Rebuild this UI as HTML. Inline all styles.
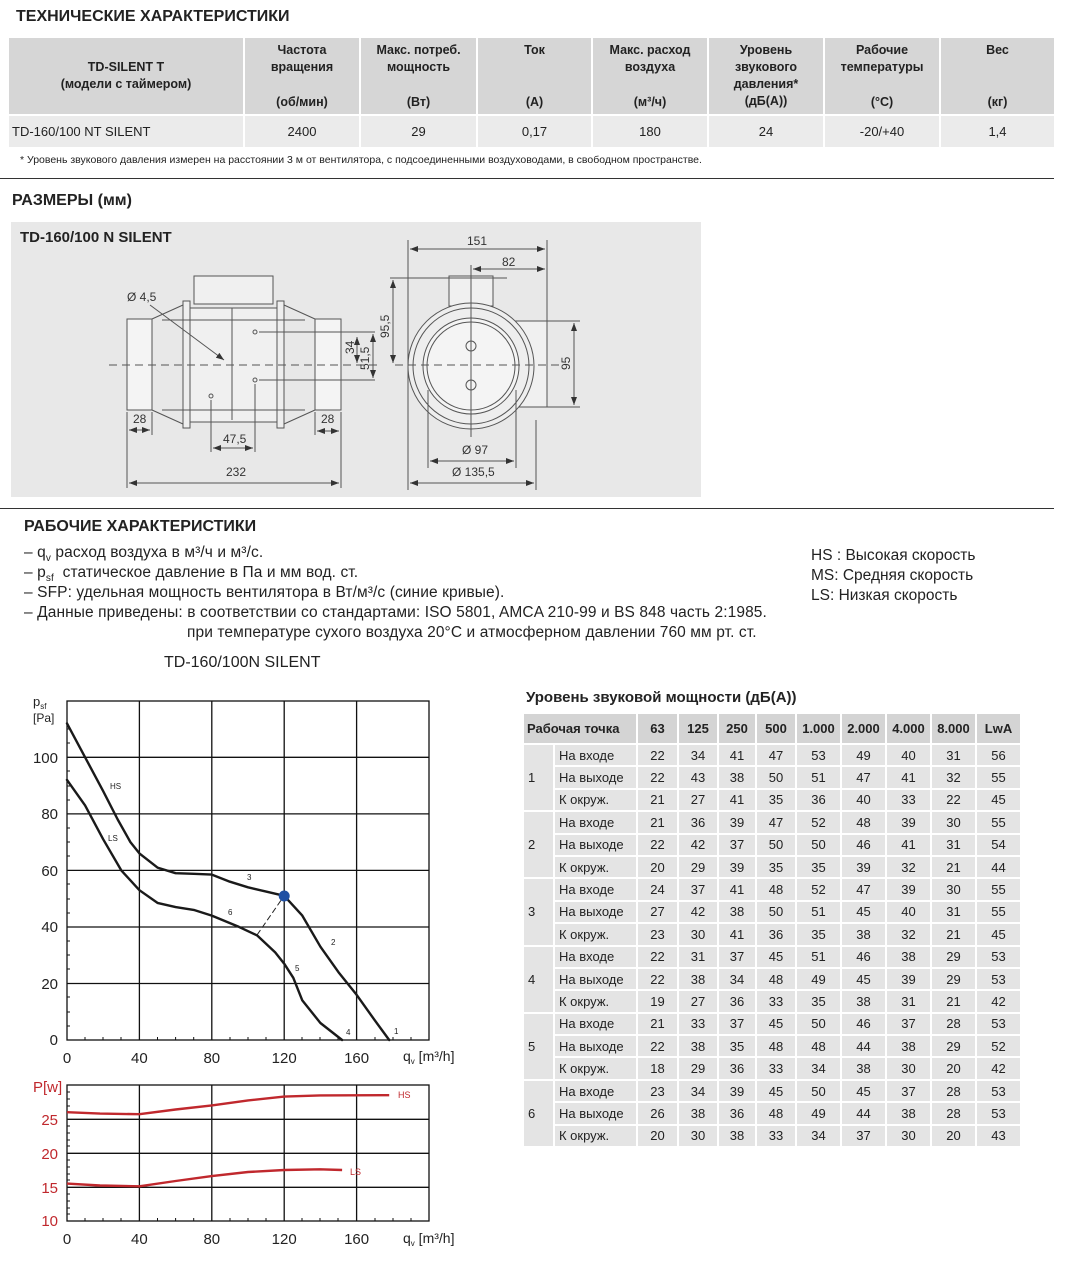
<!DOCTYPE html>
<html><head><meta charset="utf-8">
<style>
*{margin:0;padding:0;box-sizing:border-box}
body{width:1074px;height:1265px;background:#fff;position:relative;font-family:"Liberation Sans","DejaVu Sans",sans-serif;color:#222;overflow:hidden}
.a{position:absolute;white-space:nowrap}
h1{position:absolute;font-size:16px;font-weight:bold;color:#222}
table{position:absolute;border-collapse:separate;border-spacing:2px}
#t1{left:7px;top:36px;width:1049px}
#t1 td{background:#ebebeb;font-size:13px;text-align:center;height:31px;padding:0}
#t1 th{background:#d6d6d6;font-size:12.5px;height:76px;position:relative;vertical-align:top;font-weight:bold;padding-top:4px;line-height:17px}
#t1 th .u{position:absolute;bottom:3px;left:0;right:0}
#t2{left:522px;top:712px}
#t2 th{background:#d4d4d4;font-size:13px;height:29px;font-weight:bold;padding:0 3px}
#t2 td{background:#e4e4e4;font-size:13px;height:20.4px;padding:0 3px;text-align:center}
#t2 td.l{text-align:left;padding-left:4px}
.p{position:absolute;white-space:nowrap;font-size:15.5px;left:24px;letter-spacing:0.1px}
.s{font-size:10px;position:relative;top:4px}
</style></head><body>

<h1 style="left:16px;top:8px">ТЕХНИЧЕСКИЕ ХАРАКТЕРИСТИКИ</h1>
<table id="t1">
<tr>
<th style="width:234px;vertical-align:middle;padding-top:0">TD-SILENT T<br>(модели с таймером)</th>
<th style="width:114px">Частота<br>вращения<div class="u">(об/мин)</div></th>
<th style="width:115px">Макс. потреб.<br>мощность<div class="u">(Вт)</div></th>
<th style="width:113px">Ток<div class="u">(А)</div></th>
<th style="width:114px">Макс. расход<br>воздуха<div class="u">(м³/ч)</div></th>
<th style="width:114px">Уровень<br>звукового<br>давления*<br>(дБ(А))</th>
<th style="width:114px">Рабочие<br>температуры<div class="u">(°C)</div></th>
<th style="width:113px">Вес<div class="u">(кг)</div></th>
</tr>
<tr><td style="text-align:left;padding-left:3px">TD-160/100 NT SILENT</td><td>2400</td><td>29</td><td>0,17</td><td>180</td><td>24</td><td>-20/+40</td><td>1,4</td></tr>
</table>
<div class="a" style="left:20px;top:154px;font-size:10.5px">* Уровень звукового давления измерен на расстоянии 3 м от вентилятора, с подсоединенными воздуховодами, в свободном пространстве.</div>
<div class="a" style="left:0;top:178px;width:1054px;height:1px;background:#333"></div>

<h1 style="left:12px;top:192px">РАЗМЕРЫ (мм)</h1>
<div class="a" style="left:11px;top:222px;width:690px;height:275px;background:#e8e8e8"></div>
<div class="a" style="left:20px;top:229px;font-size:15px;font-weight:bold">TD-160/100 N SILENT</div>

<svg class="a" style="left:0;top:0" width="1074" height="1265" font-family="Liberation Sans, sans-serif">
<defs><marker id="ar" markerWidth="8" markerHeight="6" refX="8" refY="3" orient="auto-start-reverse"><path d="M0,0L8,3L0,6z" fill="#333"/></marker></defs>
<g fill="none" stroke="#555" stroke-width="1">
<rect x="127" y="319" width="25" height="91" fill="#f4f4f4"/>
<rect x="315" y="319" width="26" height="91" fill="#f4f4f4"/>
<path d="M152,319L183,305M152,410L183,424M315,319L284,305M315,410L284,424"/>
<rect x="190" y="308" width="87" height="114" fill="#f0f0f0"/>
<rect x="183" y="301" width="7" height="127" fill="#eee"/>
<rect x="277" y="301" width="7" height="127" fill="#eee"/>
<rect x="194" y="276" width="79" height="28" fill="#f0f0f0"/>
<line x1="232" y1="308" x2="232" y2="420"/>
<line x1="162" y1="320" x2="305" y2="320"/><line x1="162" y1="410" x2="305" y2="410"/>
<circle cx="255" cy="332" r="2"/><circle cx="255" cy="380" r="2"/><circle cx="211" cy="396" r="2"/>
<line x1="150" y1="305" x2="224" y2="360" marker-end="url(#ar)"/>
<line x1="259" y1="332" x2="375" y2="332"/><line x1="259" y1="380" x2="375" y2="380"/>
<line x1="109" y1="365" x2="380" y2="365" stroke-dasharray="8,5"/>
<line x1="127" y1="412" x2="127" y2="488"/><line x1="341" y1="412" x2="341" y2="488"/>
<line x1="152" y1="412" x2="152" y2="435"/><line x1="315" y1="412" x2="315" y2="435"/>
<line x1="129" y1="430" x2="150" y2="430" marker-end="url(#ar)" marker-start="url(#ar)"/>
<line x1="317" y1="431" x2="339" y2="431" marker-end="url(#ar)" marker-start="url(#ar)"/>
<line x1="211" y1="400" x2="211" y2="452"/><line x1="255" y1="384" x2="255" y2="452"/>
<line x1="213" y1="448" x2="253" y2="448" marker-end="url(#ar)" marker-start="url(#ar)"/>
<line x1="129" y1="483" x2="339" y2="483" marker-end="url(#ar)" marker-start="url(#ar)"/>
<line x1="357" y1="337" x2="357" y2="363" marker-end="url(#ar)" marker-start="url(#ar)"/>
<line x1="373" y1="334" x2="373" y2="378" marker-end="url(#ar)" marker-start="url(#ar)"/>
<rect x="493" y="321" width="54" height="86" fill="#f0f0f0"/>
<rect x="449" y="276" width="44" height="30" fill="#f0f0f0"/>
<circle cx="471" cy="366" r="63" fill="#eee"/>
<circle cx="471" cy="366" r="58"/>
<circle cx="471" cy="366" r="48" fill="#f4f4f4"/>
<circle cx="471" cy="366" r="44"/>
<circle cx="471" cy="346" r="5"/><circle cx="471" cy="385" r="5"/>
<line x1="471" y1="265" x2="471" y2="437"/>
<line x1="395" y1="365" x2="560" y2="365" stroke-dasharray="8,5"/>
<line x1="408" y1="240" x2="408" y2="490"/><line x1="547" y1="240" x2="547" y2="321"/>
<line x1="410" y1="249" x2="545" y2="249" marker-end="url(#ar)" marker-start="url(#ar)"/>
<line x1="473" y1="269" x2="545" y2="269" marker-end="url(#ar)" marker-start="url(#ar)"/>
<line x1="390" y1="278" x2="507" y2="278"/>
<line x1="393" y1="280" x2="393" y2="363" marker-end="url(#ar)" marker-start="url(#ar)"/>
<line x1="547" y1="321" x2="580" y2="321"/><line x1="547" y1="407" x2="580" y2="407"/>
<line x1="574" y1="323" x2="574" y2="405" marker-end="url(#ar)" marker-start="url(#ar)"/>
<line x1="428" y1="390" x2="428" y2="468"/><line x1="516" y1="390" x2="516" y2="468"/>
<line x1="430" y1="461" x2="514" y2="461" marker-end="url(#ar)" marker-start="url(#ar)"/>
<line x1="536" y1="420" x2="536" y2="490"/>
<line x1="410" y1="483" x2="534" y2="483" marker-end="url(#ar)" marker-start="url(#ar)"/>
</g>
<g font-size="12" fill="#333">
<text x="127" y="301">Ø 4,5</text><text x="133" y="423">28</text><text x="321" y="423">28</text>
<text x="223" y="443">47,5</text><text x="226" y="476">232</text>
<text x="467" y="245">151</text><text x="502" y="266">82</text>
<text x="462" y="454">Ø 97</text><text x="452" y="476">Ø 135,5</text>
<text transform="translate(354,354) rotate(-90)">34</text>
<text transform="translate(369,370) rotate(-90)">51,5</text>
<text transform="translate(389,338) rotate(-90)">95,5</text>
<text transform="translate(570,370) rotate(-90)">95</text>
</g>
</svg>

<div class="a" style="left:0;top:508px;width:1054px;height:1px;background:#333"></div>
<h1 style="left:24px;top:518px">РАБОЧИЕ ХАРАКТЕРИСТИКИ</h1>
<div class="p" style="top:544px">– q<span class="s">v</span> расход воздуха в м³/ч и м³/с.</div>
<div class="p" style="top:564px">– p<span class="s">sf</span>&nbsp; статическое давление в Па и мм вод. ст.</div>
<div class="p" style="top:584px">– SFP: удельная мощность вентилятора в Вт/м³/с (синие кривые).</div>
<div class="p" style="top:604px">– Данные приведены: в соответствии со стандартами: ISO 5801, AMCA 210-99 и BS 848 часть 2:1985.</div>
<div class="p" style="left:187px;top:624px">при температуре сухого воздуха 20°C и атмосферном давлении 760 мм рт. ст.</div>
<div class="a" style="left:811px;top:546px;font-size:15.5px;line-height:20px">HS : Высокая скорость<br>MS: Средняя скорость<br>LS: Низкая скорость</div>
<div class="a" style="left:164px;top:654px;font-size:16px">TD-160/100N SILENT</div>

<svg class="a" style="left:0;top:0" width="1074" height="1265" font-family="Liberation Sans, sans-serif">
<g stroke="#111" stroke-width="1.3" fill="none">
<rect x="67" y="701" width="362" height="339"/>
<path d="M139.4,701V1040M211.8,701V1040M284.2,701V1040M356.6,701V1040M67,757.3H429M67,813.9H429M67,870.4H429M67,927H429M67,983.5H429"/>
<rect x="67" y="1085" width="362" height="136"/>
<path d="M139.4,1085V1221M211.8,1085V1221M284.2,1085V1221M356.6,1085V1221M67,1119.3H429M67,1153.3H429M67,1187.3H429"/>
</g>
<g stroke="#111" stroke-width="1">
<path d="M67,729h3M67,743h3M67,771h3M67,786h3M67,800h3M67,828h3M67,842h3M67,856h3M67,884h3M67,899h3M67,913h3M67,941h3M67,955h3M67,969h3M67,997h3M67,1012h3M67,1026h3"/>
<path d="M85,1040v-3M103,1040v-3M121,1040v-3M157.5,1040v-3M175.6,1040v-3M193.7,1040v-3M230,1040v-3M248,1040v-3M266,1040v-3M302,1040v-3M320,1040v-3M338,1040v-3M375,1040v-3M393,1040v-3M411,1040v-3"/>
<path d="M67,1092h3M67,1099h3M67,1106h3M67,1112h3M67,1126h3M67,1133h3M67,1140h3M67,1146h3M67,1160h3M67,1167h3M67,1174h3M67,1180h3M67,1194h3M67,1201h3M67,1208h3M67,1214h3"/>
<path d="M85,1221v-3M103,1221v-3M121,1221v-3M157.5,1221v-3M175.6,1221v-3M193.7,1221v-3M230,1221v-3M248,1221v-3M266,1221v-3M302,1221v-3M320,1221v-3M338,1221v-3M375,1221v-3M393,1221v-3M411,1221v-3"/>
</g>
<g stroke="#1a1a1a" stroke-width="2.4" fill="none" stroke-linejoin="round" stroke-linecap="round">
<polyline points="67,723.4 85.1,757.3 103.2,791.2 117.7,819.5 130.4,842.1 139.4,853.4 157.5,867.6 175.6,873.2 193.7,873.8 211.8,874.6 229.9,881.7 248,887.3 266.1,891.6 284.2,895.8 302.3,915.6 320.4,946.7 338.5,972.2 356.6,994.8 374.7,1020.2 389.2,1040"/>
<polyline points="67,779.9 85.1,805.4 103.2,839.3 121.3,870.4 139.4,890.2 157.5,902.9 175.6,907.1 193.7,909.9 211.8,915.6 239,926.9 257.1,935.4 275.2,952.4 284.2,963.7 293.3,977.8 302.3,1000.4 320.4,1023 342.1,1040"/>
</g>
<line x1="257" y1="935" x2="284" y2="896" stroke="#222" stroke-width="1" stroke-dasharray="6,3"/>
<circle cx="284.2" cy="896" r="5.5" fill="#1f4fa3"/>
<g stroke="#c0282d" stroke-width="2.4" fill="none" stroke-linejoin="round">
<polyline points="67,1112.2 100,1113.6 139.4,1114.2 175.6,1109.5 211.8,1105.4 248,1100.4 284.2,1096.6 320,1095.4 389.2,1095.2"/>
<polyline points="67,1183.6 100,1185.5 139.4,1186.3 175.6,1181 211.8,1176.1 248,1172 284.2,1170 320,1169.3 342.1,1170"/>
</g>
<g font-size="8" fill="#222">
<text x="110" y="789">HS</text><text x="108" y="841">LS</text><text x="247" y="880">3</text><text x="228" y="915">6</text>
<text x="331" y="945">2</text><text x="295" y="971">5</text><text x="394" y="1034">1</text><text x="346" y="1035">4</text>
</g>
<g font-size="9" fill="#c0282d"><text x="398" y="1098">HS</text><text x="350" y="1175">LS</text></g>
<g font-size="15" fill="#222" text-anchor="end">
<text x="58" y="763">100</text><text x="58" y="819">80</text><text x="58" y="876">60</text><text x="58" y="932">40</text><text x="58" y="989">20</text><text x="58" y="1045">0</text>
</g>
<g font-size="15" fill="#c0282d" text-anchor="end">
<text x="58" y="1125">25</text><text x="58" y="1159">20</text><text x="58" y="1193">15</text><text x="58" y="1226">10</text>
</g>
<text x="33" y="1092" font-size="15" fill="#c0282d">P[w]</text>
<text x="33" y="706" font-size="13" fill="#222">p<tspan font-size="8" dy="3">sf</tspan></text>
<text x="33" y="722" font-size="12" fill="#222">[Pa]</text>
<g font-size="15" fill="#222" text-anchor="middle">
<text x="67" y="1063">0</text><text x="139.4" y="1063">40</text><text x="211.8" y="1063">80</text><text x="284.2" y="1063">120</text><text x="356.6" y="1063">160</text>
<text x="67" y="1244">0</text><text x="139.4" y="1244">40</text><text x="211.8" y="1244">80</text><text x="284.2" y="1244">120</text><text x="356.6" y="1244">160</text>
</g>
<text x="403" y="1061" font-size="14" fill="#222">q<tspan font-size="8" dy="3">v</tspan><tspan dy="-3"> [m³/h]</tspan></text>
<text x="403" y="1243" font-size="14" fill="#222">q<tspan font-size="8" dy="3">v</tspan><tspan dy="-3"> [m³/h]</tspan></text>
</svg>

<div class="a" style="left:526px;top:689px;font-size:15px;font-weight:bold">Уровень звуковой мощности (дБ(А))</div>
<table id="t2">
<tr><th colspan="2" style="text-align:left;width:112px">Рабочая точка</th><th style="width:39px">63</th><th style="width:38px">125</th><th style="width:36px">250</th><th style="width:38px">500</th><th style="width:43px">1.000</th><th style="width:43px">2.000</th><th style="width:43px">4.000</th><th style="width:43px">8.000</th><th style="width:43px">LwA</th></tr>
<tr><td rowspan="3" class="l" style="width:29px">1</td><td class="l">На входе</td><td>22</td><td>34</td><td>41</td><td>47</td><td>53</td><td>49</td><td>40</td><td>31</td><td>56</td></tr>
<tr><td class="l">На выходе</td><td>22</td><td>43</td><td>38</td><td>50</td><td>51</td><td>47</td><td>41</td><td>32</td><td>55</td></tr>
<tr><td class="l">К окруж.</td><td>21</td><td>27</td><td>41</td><td>35</td><td>36</td><td>40</td><td>33</td><td>22</td><td>45</td></tr>
<tr><td rowspan="3" class="l">2</td><td class="l">На входе</td><td>21</td><td>36</td><td>39</td><td>47</td><td>52</td><td>48</td><td>39</td><td>30</td><td>55</td></tr>
<tr><td class="l">На выходе</td><td>22</td><td>42</td><td>37</td><td>50</td><td>50</td><td>46</td><td>41</td><td>31</td><td>54</td></tr>
<tr><td class="l">К окруж.</td><td>20</td><td>29</td><td>39</td><td>35</td><td>35</td><td>39</td><td>32</td><td>21</td><td>44</td></tr>
<tr><td rowspan="3" class="l">3</td><td class="l">На входе</td><td>24</td><td>37</td><td>41</td><td>48</td><td>52</td><td>47</td><td>39</td><td>30</td><td>55</td></tr>
<tr><td class="l">На выходе</td><td>27</td><td>42</td><td>38</td><td>50</td><td>51</td><td>45</td><td>40</td><td>31</td><td>55</td></tr>
<tr><td class="l">К окруж.</td><td>23</td><td>30</td><td>41</td><td>36</td><td>35</td><td>38</td><td>32</td><td>21</td><td>45</td></tr>
<tr><td rowspan="3" class="l">4</td><td class="l">На входе</td><td>22</td><td>31</td><td>37</td><td>45</td><td>51</td><td>46</td><td>38</td><td>29</td><td>53</td></tr>
<tr><td class="l">На выходе</td><td>22</td><td>38</td><td>34</td><td>48</td><td>49</td><td>45</td><td>39</td><td>29</td><td>53</td></tr>
<tr><td class="l">К окруж.</td><td>19</td><td>27</td><td>36</td><td>33</td><td>35</td><td>38</td><td>31</td><td>21</td><td>42</td></tr>
<tr><td rowspan="3" class="l">5</td><td class="l">На входе</td><td>21</td><td>33</td><td>37</td><td>45</td><td>50</td><td>46</td><td>37</td><td>28</td><td>53</td></tr>
<tr><td class="l">На выходе</td><td>22</td><td>38</td><td>35</td><td>48</td><td>48</td><td>44</td><td>38</td><td>29</td><td>52</td></tr>
<tr><td class="l">К окруж.</td><td>18</td><td>29</td><td>36</td><td>33</td><td>34</td><td>38</td><td>30</td><td>20</td><td>42</td></tr>
<tr><td rowspan="3" class="l">6</td><td class="l">На входе</td><td>23</td><td>34</td><td>39</td><td>45</td><td>50</td><td>45</td><td>37</td><td>28</td><td>53</td></tr>
<tr><td class="l">На выходе</td><td>26</td><td>38</td><td>36</td><td>48</td><td>49</td><td>44</td><td>38</td><td>28</td><td>53</td></tr>
<tr><td class="l">К окруж.</td><td>20</td><td>30</td><td>38</td><td>33</td><td>34</td><td>37</td><td>30</td><td>20</td><td>43</td></tr>
</table>
</body></html>
